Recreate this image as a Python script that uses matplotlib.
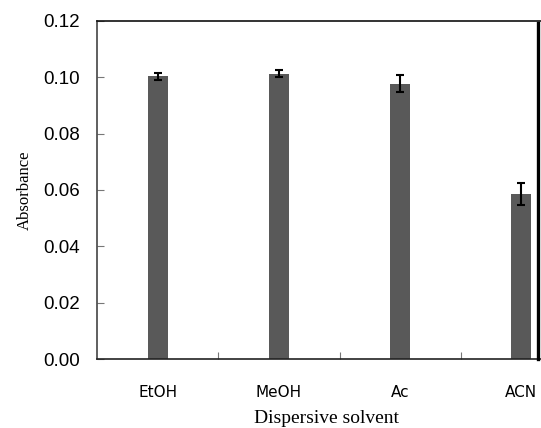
import matplotlib
matplotlib.use("Agg")
import matplotlib.pyplot as plt
from matplotlib.lines import Line2D

categories = ["EtOH", "MeOH", "Ac", "ACN"]
absorbance = [0.1003, 0.1013, 0.0978, 0.0586]
errors = [0.0011, 0.0012, 0.0030, 0.0040]
yticks = [0.00, 0.02, 0.04, 0.06, 0.08, 0.10, 0.12]

W, H = 541, 428
fig = plt.figure(figsize=(W / 100, H / 100), dpi=100)
fig.patch.set_facecolor("white")

left, right, top, bottom = 97, 582, 21, 359
ax = fig.add_axes([left / W, 1 - bottom / H, (right - left) / W, (bottom - top) / H])

x = list(range(len(categories)))
ax.bar(x, absorbance, width=20 / 121.3, color="#595959", zorder=2)
ax.errorbar(x, absorbance, yerr=errors, fmt="none", ecolor="black",
            elinewidth=1.5, capsize=3.2, capthick=1.5, zorder=3)

ax.set_xlim(-0.5, len(categories) - 0.5)
ax.set_ylim(0, 0.12)
ax.set_yticks(yticks)
ax.set_yticklabels([f"{v:.2f}" for v in yticks], fontfamily="Liberation Sans", fontsize=13.5)

ax.set_xticks([i + 0.5 for i in range(len(categories) - 1)])
ax.set_xticklabels([])
ax.set_xticks(x, minor=True)
ax.set_xticklabels(categories, minor=True, fontfamily="DejaVu Sans", fontsize=11)
ax.tick_params(axis="x", which="major", direction="in", length=5, width=0.8, color="#777777")
ax.tick_params(axis="x", which="minor", length=0, pad=18.5)
ax.tick_params(axis="y", direction="in", length=5, width=0.8, color="#777777", pad=12)

for s in ["left", "bottom", "top"]:
    ax.spines[s].set_linewidth(1.2)
ax.spines["left"].set_color("#444444")
ax.spines["bottom"].set_color("#222222")
ax.spines["top"].set_color("#111111")
ax.spines["right"].set_visible(False)

ax.set_xlabel("Dispersive solvent", fontfamily="Liberation Serif", fontsize=14, labelpad=7.5)
ax.xaxis.label.set_x((327 - left) / (right - left))
ax.set_ylabel("Absorbance", fontfamily="Liberation Serif", fontsize=12, labelpad=8)

fig.add_artist(Line2D([537.5 / W, 537.5 / W], [1 - 23 / H, 1 - 359 / H],
                      transform=fig.transFigure, color="black", linewidth=2.4))

fig.savefig("out.png", dpi=100)
